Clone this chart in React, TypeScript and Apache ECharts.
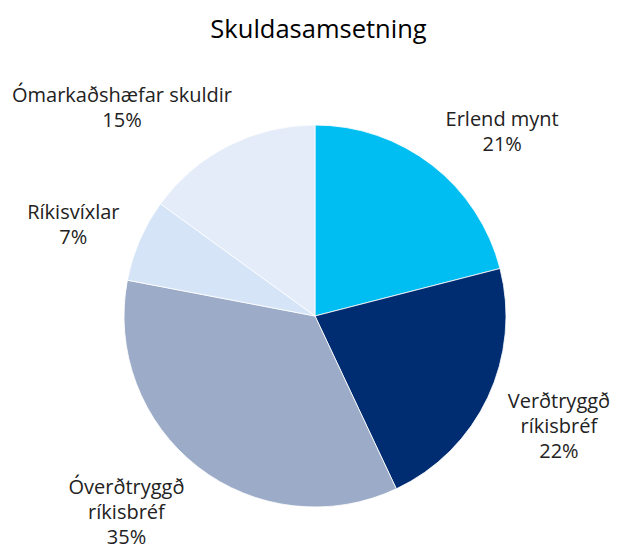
import React, { useEffect, useRef } from "react";
import * as echarts from "echarts";

const titleText = "Skuldasamsetning";
const categories = [
  "Erlend mynt",
  "Verðtryggð\nríkisbréf",
  "Óverðtryggð\nríkisbréf",
  "Ríkisvíxlar",
  "Ómarkaðshæfar skuldir",
];
const values = [21, 22, 35, 7, 15];
const colors = ["#00BEF2", "#002D72", "#9BABC8", "#D6E4F7", "#E3ECF8"];

const FONT = "'Open Sans', 'Noto Sans', sans-serif";
const W = 637;
const H = 552;

export default function App() {
  const ref = useRef<HTMLDivElement>(null);
  useEffect(() => {
    document.body.style.margin = "0";
    if (!ref.current) return;
    const chart = echarts.init(ref.current, undefined, { renderer: "svg" });
    const cx = 315;
    const cy = 316;
    const r = 191;
    const gap = 22;
    const total = values.reduce((a, b) => a + b, 0);
    const mids: number[] = [];
    let acc = 0;
    for (const v of values) {
      mids.push(90 - ((acc + v / 2) / total) * 360);
      acc += v;
    }
    chart.setOption({
      animation: false,
      title: {
        text: titleText,
        left: "center",
        top: 10,
        textStyle: { fontFamily: FONT, fontSize: 25.5, fontWeight: "normal", color: "#000" },
      },
      series: [
        {
          type: "pie",
          center: [cx, cy],
          radius: r,
          startAngle: 90,
          clockwise: true,
          itemStyle: { borderColor: "#fff", borderWidth: 0.8 },
          label: {
            show: true,
            position: "outside",
            formatter: "{b}\n{c}%",
            fontFamily: FONT,
            fontSize: 20,
            lineHeight: 25,
            color: "#222",
            align: "center",
            overflow: "none",
          },
          labelLine: { show: false },
          labelLayout: (params: any) => {
            const a = (mids[params.dataIndex] * Math.PI) / 180;
            const ux = Math.cos(a);
            const uy = -Math.sin(a);
            const w = params.labelRect.width;
            const h = params.labelRect.height;
            const px = cx + (r + gap) * ux;
            const py = cy + (r + gap) * uy;
            let x = px + Math.sign(ux) * w / 2;
            let y = py + uy * h / 2 + 3;
            x = Math.min(Math.max(x, 12 + w / 2), W - 8 - w / 2);
            y = Math.min(Math.max(y, 60 + h / 2), H - 3 - h / 2);
            return { x, y, align: "center", verticalAlign: "middle" };
          },
          data: categories.map((name, i) => ({
            name,
            value: values[i],
            itemStyle: { color: colors[i] },
          })),
        },
      ],
    });
    return () => chart.dispose();
  }, []);
  return <div ref={ref} style={{ width: W, height: H }} />;
}
